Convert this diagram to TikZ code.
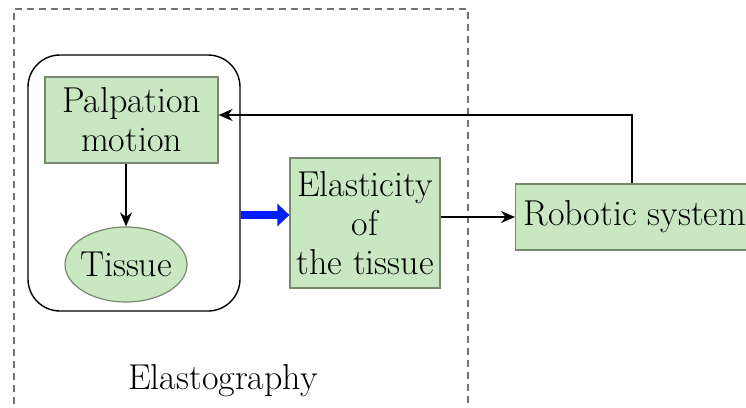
\documentclass[tikz,border=0pt]{standalone}
\usepackage{xcolor}
\usetikzlibrary{shapes.geometric,arrows.meta}

\definecolor{boxgreen}{RGB}{201,231,193}
\definecolor{boxedge}{RGB}{120,135,112}
\definecolor{feedblue}{RGB}{0,30,255}

\tikzset{
	greenbox/.style={draw=boxedge, fill=boxgreen, line width=1.2pt, align=center, inner sep=2pt,
		font=\fontsize{36}{39}\selectfont},
	blackarrow/.style={line width=1.1pt, -{Stealth[length=14pt,width=12pt]}},
}

\begin{document}
\begin{tikzpicture}[x=1pt,y=-1pt]
	\useasboundingbox (0,0) rectangle (746,407);
	%outer dashed frame
	\draw[gray!90!black, line width=1.2pt, dash pattern=on 7pt off 5pt] (14,440) -- (14,9) -- (468,9) -- (468,440);
	\node[font=\fontsize{36}{40}\selectfont] (elasto) at (223,381) {Elastography};
	
	%rounded group
	\node[draw, line width=1.4pt, rounded corners=32pt, minimum width=212pt, minimum height=256pt] (sensing) at (134,183) {};
	\node[greenbox, minimum width=173pt, minimum height=86pt] (palp) at (131.5,120) {Palpation\\motion};
	\node[greenbox, ellipse, minimum width=122pt, minimum height=75pt, inner xsep=-5pt, inner ysep=0pt] (tissue) at (126,264.5) {Tissue};
	
	\node[greenbox, minimum width=150pt, minimum height=130pt] (elast) at (365,223) {Elasticity\\of\\the tissue};
	\node[greenbox, minimum height=66pt, inner xsep=8pt, anchor=west] (robot) at (515,217) {Robotic system};
	
	\draw[blackarrow] (palp.south -| tissue.north) -- (tissue.north);
	\draw[feedblue, line width=8pt, -{Triangle[length=12pt,width=22pt]}] (sensing.east |- 0,215) -- ([yshift=8pt]elast.west);
	\draw[blackarrow] (elast.east |- robot.west) -- (robot.west);
	\draw[blackarrow] (robot.north -| 632,0) |- ([yshift=5pt]palp.east);
\end{tikzpicture}
\end{document}
